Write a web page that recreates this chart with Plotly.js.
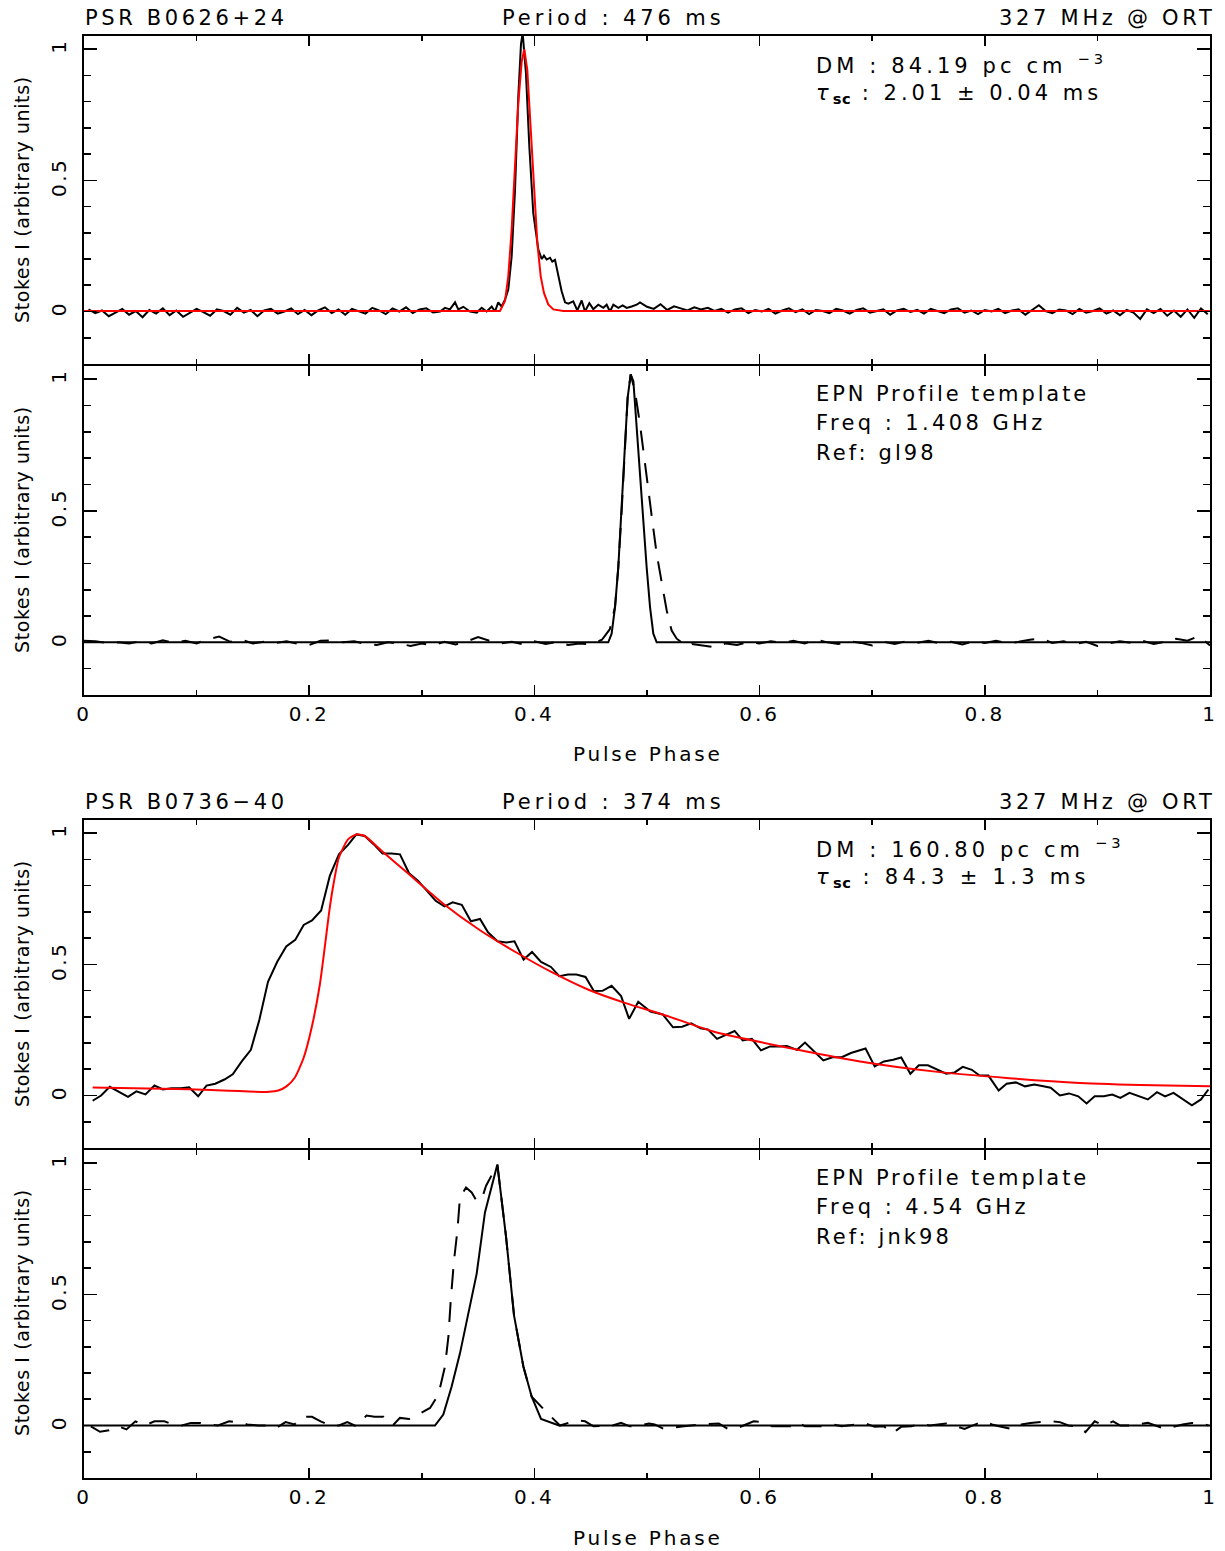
<!DOCTYPE html>
<html>
<head>
<meta charset="utf-8">
<script src="https://cdn.plot.ly/plotly-3.0.1.min.js"></script>
<style>html,body{margin:0;padding:0;background:#fff;}</style>
</head>
<body>
<div id="chart" style="width:1225px;height:1551px;"></div>
<script>
// ---------------- DATA ----------------
// Panel 1: PSR B0626+24, 327 MHz observed profile (black) and scattering fit (red)
const p1_phase = [0.004,0.010,0.016,0.022,0.028,0.034,0.040,0.046,0.052,0.058,0.064,0.070,0.076,0.082,0.088,0.094,0.100,0.106,0.112,0.118,0.124,0.130,0.136,0.142,0.148,0.154,0.160,0.166,0.172,0.178,0.184,0.190,0.196,0.202,0.208,0.214,0.220,0.226,0.232,0.238,0.244,0.250,0.256,0.262,0.268,0.274,0.280,0.286,0.292,0.298,0.304,0.310,
 0.3162,0.3206,0.3250,0.3295,0.3324,0.3369,0.3428,0.3488,0.3532,0.3576,0.3621,0.3650,0.3679,0.3709,0.3739,0.3768,0.3798,0.3828,0.3857,0.3881,0.3896,0.3925,0.3955,0.3990,0.4035,0.4065,0.4085,0.4109,0.4139,0.4159,0.4183,0.4212,0.4242,0.4272,0.4301,0.4345,0.4381,0.4420,0.4449,0.4488,0.4523,0.4567,0.4612,0.4642,0.4671,0.4701,0.4745,0.4784,0.4820,0.4864,0.4908,0.4938,
 0.500,0.506,0.512,0.518,0.524,0.530,0.536,0.542,0.548,0.554,0.560,0.566,0.572,0.578,0.584,0.590,0.596,0.602,0.608,0.614,0.620,0.626,0.632,0.638,0.644,0.650,0.656,0.662,0.668,0.674,0.680,0.686,0.692,0.698,0.704,0.710,0.716,0.722,0.728,0.734,0.740,0.746,0.752,0.758,0.764,0.770,0.776,0.782,0.788,0.794,0.800,0.806,0.812,0.818,0.824,0.830,0.836,0.842,0.848,0.854,0.860,0.866,0.872,0.878,0.884,0.890,0.896,0.902,0.908,0.914,0.920,0.926,0.932,0.938,0.944,0.950,0.956,0.962,0.968,0.974,0.980,0.986,0.992,0.998];
const p1_stokesI = [0.008,-0.006,0.004,-0.018,-0.004,0.010,-0.012,0.002,-0.022,0.006,-0.008,0.012,-0.014,0.004,-0.020,-0.006,0.010,-0.002,-0.016,0.008,0.002,-0.012,0.014,-0.004,0.006,-0.018,0.004,0.010,-0.008,0.000,0.012,-0.010,0.006,-0.014,0.004,0.016,-0.006,0.008,-0.012,0.010,0.002,-0.008,0.014,0.004,-0.010,0.012,0.000,0.016,-0.006,0.008,0.012,-0.004,
 0.000,0.014,0.008,0.035,0.008,0.018,0.000,-0.004,0.014,0.000,0.019,0.000,0.035,0.019,0.045,0.084,0.210,0.464,0.819,1.020,1.060,0.907,0.629,0.375,0.236,0.200,0.213,0.198,0.205,0.190,0.197,0.134,0.077,0.035,0.030,0.039,0.004,0.042,0.000,0.032,0.009,0.026,0.014,0.026,0.000,0.026,0.014,0.023,0.014,0.019,0.026,0.035,
 0.018,0.010,0.028,0.006,0.020,0.012,0.004,0.016,0.008,0.014,0.002,0.010,-0.004,0.008,0.012,-0.006,0.006,0.000,0.010,-0.008,0.004,0.012,-0.002,0.008,-0.010,0.006,0.002,-0.006,0.010,0.004,-0.008,0.006,0.012,-0.004,0.002,0.008,-0.012,0.004,0.010,-0.002,0.006,-0.008,0.010,0.002,-0.006,0.008,0.012,-0.004,0.004,-0.010,0.006,0.000,0.010,-0.006,0.004,0.008,-0.012,0.006,0.024,0.002,-0.006,0.008,0.004,-0.010,0.010,-0.004,0.002,0.012,-0.008,0.004,-0.014,0.006,-0.004,-0.028,0.008,-0.006,0.010,-0.016,0.004,-0.020,0.008,-0.024,0.012,-0.010];
const p1_fit_phase = [0,0.3694,0.3739,0.3768,0.3798,0.3828,0.3857,0.3887,0.3910,0.3937,0.3967,0.3996,0.4026,0.4056,0.4085,0.4123,0.4168,0.4257,1];
const p1_fit = [0.002,0.002,0.040,0.134,0.312,0.565,0.793,0.952,1.000,0.920,0.692,0.464,0.261,0.134,0.071,0.027,0.008,0.002,0.002];

// Panel 2: EPN template 1.408 GHz (solid) and scattered template (dashed)
const p2_tpl_phase = [0,0.4656,0.4686,0.4716,0.4745,0.4775,0.4805,0.4828,0.4855,0.4879,0.4908,0.4938,0.4967,0.4997,0.5027,0.5056,0.5086,1];
const p2_tpl = [0,0,0.033,0.134,0.285,0.500,0.753,0.929,1.018,0.992,0.816,0.639,0.462,0.285,0.134,0.033,0,0];
const p2_dash_phase = [0.00,0.01,0.02,0.03,0.04,0.05,0.06,0.07,0.08,0.09,0.10,0.11,0.12,0.13,0.14,0.15,0.16,0.17,0.18,0.19,0.20,0.21,0.22,0.23,0.24,0.25,0.26,0.27,0.28,0.29,0.30,0.31,0.32,0.33,0.34,0.35,0.36,0.37,0.38,0.39,0.40,0.41,0.42,0.43,0.44,0.45,0.46,
 0.4670,0.4716,0.4745,0.4775,0.4805,0.4828,0.4855,0.4893,0.4938,0.4982,0.5012,0.5051,0.5086,0.5130,0.5175,0.5219,0.5264,0.5308,0.5352,
 0.54,0.55,0.56,0.57,0.58,0.59,0.60,0.61,0.62,0.63,0.64,0.65,0.66,0.67,0.68,0.69,0.70,0.71,0.72,0.73,0.74,0.75,0.76,0.77,0.78,0.79,0.80,0.81,0.82,0.83,0.84,0.85,0.86,0.87,0.88,0.89,0.90,0.91,0.92,0.93,0.94,0.95,0.96,0.97,0.98,0.99,1.00];
const p2_dash = [0.006,0.004,-0.002,0.000,-0.004,0.004,-0.004,0.008,-0.002,0.006,-0.004,0.012,0.022,0.002,0.010,-0.004,0.002,-0.002,0.004,-0.006,-0.010,0.006,0.008,0.000,0.004,-0.006,-0.010,0.000,-0.004,-0.014,-0.004,-0.012,0.002,-0.008,0.004,0.020,0.006,-0.004,0.002,-0.008,0.004,-0.006,0.002,-0.010,-0.004,-0.008,0.010,
 0.050,0.134,0.285,0.500,0.753,0.929,1.018,0.955,0.828,0.677,0.563,0.449,0.336,0.222,0.121,0.045,0.014,0.000,-0.018,
 -0.006,-0.012,-0.018,-0.004,-0.010,0.002,-0.004,0.004,-0.002,0.006,-0.004,0.010,0.000,-0.006,0.004,-0.002,-0.012,0.002,-0.006,0.004,-0.002,0.006,-0.004,0.002,-0.008,0.004,-0.002,0.006,-0.004,0.002,0.010,0.014,-0.002,0.004,-0.006,0.002,-0.014,-0.004,0.004,-0.002,0.006,-0.006,0.002,0.014,0.006,0.024,-0.012];

// Panel 3: PSR B0736-40, 327 MHz observed profile (black) and scattering fit (red)
const p3_phase = [0.0077,0.0152,0.0229,0.0313,0.0391,0.0465,0.0546,0.0626,0.0701,0.0778,0.0859,0.0933,0.1014,0.1088,0.1166,0.1247,0.1321,0.1401,0.1482,0.1557,0.1634,0.1715,0.1796,0.1876,0.1951,0.2025,0.2106,0.2183,0.2264,0.2345,0.2419,0.2493,0.2574,0.2651,0.2732,0.2806,0.2887,0.2968,0.3049,0.3123,0.3201,0.3274,0.3355,0.3436,0.3517,0.3588,0.3672,0.3750,0.3823,0.3904,0.3979,0.4059,0.4147,0.4221,0.4298,0.4373,0.4454,0.4528,0.4605,0.4686,0.4770,0.4841,0.4922,0.5030,0.5140,0.5231,0.5312,0.5393,0.5475,0.5540,0.5622,0.5703,0.5778,0.5850,0.5931,0.6012,0.6094,0.6175,0.6241,0.6332,0.6403,0.6485,0.6566,0.6647,0.6729,0.6811,0.6941,0.7022,0.7104,0.7186,0.7258,0.7339,0.7414,0.7495,0.7575,0.7657,0.7732,0.7804,0.7885,0.7950,0.8032,0.8123,0.8194,0.8276,0.8357,0.8439,0.8520,0.8585,0.8667,0.8748,0.8830,0.8904,0.8976,0.9057,0.9132,0.9204,0.9285,0.9367,0.9448,0.9529,0.9601,0.9676,0.9757,0.9839,0.9920,0.9986];
const p3_stokesI = [-0.020,0.000,0.033,0.013,-0.005,0.016,0.004,0.038,0.023,0.028,0.028,0.031,-0.003,0.038,0.045,0.061,0.081,0.130,0.174,0.288,0.433,0.509,0.568,0.593,0.650,0.667,0.705,0.837,0.919,0.955,0.995,0.989,0.957,0.922,0.922,0.919,0.847,0.818,0.780,0.742,0.721,0.736,0.727,0.664,0.673,0.622,0.588,0.583,0.588,0.518,0.547,0.509,0.490,0.455,0.461,0.461,0.452,0.398,0.399,0.418,0.379,0.292,0.357,0.320,0.309,0.260,0.262,0.275,0.256,0.252,0.216,0.231,0.246,0.210,0.216,0.172,0.187,0.187,0.189,0.174,0.202,0.168,0.134,0.146,0.146,0.162,0.179,0.111,0.130,0.136,0.145,0.083,0.115,0.115,0.098,0.083,0.088,0.109,0.098,0.077,0.076,0.019,0.045,0.050,0.035,0.042,0.035,0.030,0.000,0.008,-0.003,-0.030,-0.003,-0.003,0.004,-0.009,0.010,-0.003,-0.015,0.013,-0.003,0.010,-0.015,-0.037,-0.015,0.023];
const p3_fit_phase = [0.0077,0.0933,0.1644,0.1725,0.1798,0.1870,0.1950,0.2025,0.2096,0.2183,0.2216,0.2264,0.2345,0.2419,0.2493,0.2645,0.2887,0.3194,0.3517,0.3840,0.4163,0.4486,0.4810,0.5140,0.5589,0.6240,0.6892,0.7543,0.8194,0.8845,0.9497,1.0];
const p3_fit = [0.031,0.0235,0.014,0.019,0.035,0.067,0.143,0.265,0.427,0.717,0.806,0.907,0.976,0.995,0.989,0.932,0.843,0.730,0.630,0.545,0.468,0.402,0.352,0.309,0.244,0.183,0.130,0.092,0.067,0.048,0.039,0.035];

// Panel 4: EPN template 4.54 GHz (solid) and scattered template (dashed)
const p4_tpl_phase = [0,0.3117,0.3191,0.3265,0.3339,0.3413,0.3487,0.3561,0.3671,0.3748,0.3819,0.3902,0.3976,0.4059,0.4218,1];
const p4_tpl = [0,0,0.042,0.149,0.275,0.420,0.578,0.812,0.995,0.720,0.420,0.225,0.110,0.025,0,0];
const p4_dash_phase = [0.0061,0.0142,0.0223,0.0304,0.0377,0.0456,0.0539,0.0626,0.0714,0.0788,0.0869,0.0949,0.1030,0.1110,0.1190,0.1289,0.1370,0.1450,0.1547,0.1628,0.1709,0.1790,0.1870,0.1940,0.2025,0.2102,0.2186,0.2264,0.2338,0.2419,0.2509,0.2580,0.2661,0.2742,0.2806,0.2887,0.2952,
 0.3073,0.3147,0.3206,0.3236,0.3257,0.3286,0.3316,0.3339,0.3393,0.3443,0.3487,0.3532,0.3570,0.3671,0.3748,0.3819,0.3902,0.3976,0.4100,0.4227,
 0.4373,0.4450,0.4525,0.4615,0.4695,0.4770,0.4847,0.4938,0.5018,0.5068,0.5149,0.5329,0.5475,0.5638,0.5719,0.5784,0.5947,0.6028,0.6110,0.6272,0.6332,0.6403,0.6566,0.6647,0.6729,0.6940,0.7022,0.7104,0.7179,0.7257,0.7348,0.7429,0.7510,0.7657,0.7739,0.7820,0.7983,0.8064,0.8146,0.8259,0.8325,0.8406,0.8585,0.8667,0.8742,0.8830,0.8894,0.8976,0.9058,0.9139,0.9204,0.9302,0.9448,0.9530,0.9601,0.9757,0.9839,0.9914,0.9986];
const p4_dash = [-0.003,-0.024,-0.018,-0.003,-0.015,0.016,0.000,0.016,0.016,0.004,0.000,0.010,0.010,0.004,0.000,0.016,0.013,0.004,0.000,0.000,-0.009,0.013,0.004,0.033,0.033,0.016,0.000,0.000,0.013,-0.003,0.038,0.033,0.033,0.000,0.029,0.025,0.038,
 0.067,0.117,0.225,0.338,0.477,0.629,0.742,0.869,0.907,0.888,0.856,0.862,0.913,0.995,0.720,0.420,0.225,0.110,0.054,0.000,
 0.020,0.016,-0.003,0.000,0.000,0.010,-0.003,0.000,0.008,0.004,-0.013,-0.003,0.004,0.008,-0.013,-0.013,0.016,0.013,-0.003,-0.003,0.013,-0.003,-0.003,0.004,-0.003,0.008,-0.005,-0.003,-0.030,-0.005,-0.003,0.008,0.000,0.008,-0.003,-0.013,0.016,0.004,-0.005,-0.015,0.004,0.010,0.016,0.013,0.000,-0.003,-0.025,0.016,0.000,0.016,0.000,0.000,0.010,-0.003,-0.013,0.004,0.010,0.010,0.000];

// Tick labels
const phaseTicks = [0, 0.2, 0.4, 0.6, 0.8, 1];
const phaseTickText = ['0', '0.2', '0.4', '0.6', '0.8', '1'];
const intensityTicks = [0, 0.5, 1];
const intensityTickText = ['0', '0.5', '1'];

// ---------------- LAYOUT / STYLE ----------------
const FONT = 'DejaVu Sans, Liberation Sans, sans-serif';
const W = 1225, H = 1551, ML = 84, MR = 15, MT = 36, MB = 73;
const PW = W - ML - MR, PH = H - MT - MB;
const px = x => (x - ML) / PW;
const py = y => (H - MB - y) / PH;
const sp = (t, s) => '<span style="letter-spacing:' + s + 'px">' + t + '</span>';

function xax(domainAnchor, showLabels) {
  return {
    anchor: domainAnchor, range: [0, 1], showgrid: false, zeroline: false,
    showline: true, linecolor: '#000', linewidth: 2, mirror: 'ticks',
    ticks: 'inside', ticklen: 10, tickwidth: 1.6, tickcolor: '#000',
    tickmode: 'array', tickvals: phaseTicks, ticktext: phaseTickText.map(t => sp(t, 3)),
    showticklabels: showLabels,
    tickfont: {family: FONT, size: 20, color: '#000'},
    minor: {ticks: 'inside', dtick: 0.1, tick0: 0, ticklen: 5, tickwidth: 1.6, tickcolor: '#000', showgrid: false},
    fixedrange: true
  };
}
function yax(domain, anchor) {
  return {
    domain: domain, anchor: anchor, range: [-0.2, 1.05], showgrid: false, zeroline: false,
    showline: true, linecolor: '#000', linewidth: 2, mirror: 'ticks',
    ticks: 'inside', ticklen: 13, tickwidth: 1.6, tickcolor: '#000',
    tickmode: 'array', tickvals: intensityTicks, ticktext: intensityTickText.map(t => sp(t, 2.5)),
    tickangle: -90, ticklabelstandoff: 8,
    tickfont: {family: FONT, size: 20, color: '#000'},
    minor: {ticks: 'inside', dtick: 0.1, tick0: 0, ticklen: 7, tickwidth: 1.6, tickcolor: '#000', showgrid: false},
    fixedrange: true
  };
}

// panels touching: domains overlap by the frame width so the shared border is one line
const d1 = [py(364), 1], d2 = [py(695), py(366)], d3 = [py(1148), py(820)], d4 = [0, py(1150)];

const BL = {color: '#000', width: 2};
const RD = {color: '#ff0000', width: 2};
const DS = {color: '#000', width: 2, dash: '20px,13px'};

const traces = [
  {x: p1_phase, y: p1_stokesI, xaxis: 'x', yaxis: 'y', mode: 'lines', line: BL, name: 'B0626+24 327 MHz'},
  {x: p1_fit_phase, y: p1_fit, xaxis: 'x', yaxis: 'y', mode: 'lines', line: RD, name: 'fit'},
  {x: p2_tpl_phase, y: p2_tpl, xaxis: 'x2', yaxis: 'y2', mode: 'lines', line: BL, name: 'template'},
  {x: p2_dash_phase, y: p2_dash, xaxis: 'x2', yaxis: 'y2', mode: 'lines', line: DS, name: 'scattered template'},
  {x: p3_phase, y: p3_stokesI, xaxis: 'x3', yaxis: 'y3', mode: 'lines', line: BL, name: 'B0736-40 327 MHz'},
  {x: p3_fit_phase, y: p3_fit, xaxis: 'x3', yaxis: 'y3', mode: 'lines', line: Object.assign({shape: 'spline', smoothing: 0.6}, RD), name: 'fit'},
  {x: p4_tpl_phase, y: p4_tpl, xaxis: 'x4', yaxis: 'y4', mode: 'lines', line: BL, name: 'template'},
  {x: p4_dash_phase, y: p4_dash, xaxis: 'x4', yaxis: 'y4', mode: 'lines', line: DS, name: 'scattered template'}
];

function ann(text, s, x, y, xanchor, extra) {
  return Object.assign({text: sp(text, s), x: x, y: y, xref: 'paper', yref: 'paper', xanchor: xanchor, yanchor: 'middle',
    showarrow: false, font: {family: FONT, size: 21, color: '#000'}, borderpad: 0}, extra || {});
}
const TAU = '<i>τ</i><sub><b><span style="letter-spacing:0.5px">sc</span></b></sub>';
const SMALL = {font: {family: FONT, size: 20, color: '#000'}};
const annotations = [
  ann('PSR B0626+24', 3.6, px(84), py(18), 'left'),
  ann('Period : 476 ms', 3.9, px(613), py(18), 'center'),
  ann('327 MHz @ ORT', 3.7, px(1217), py(18), 'right'),
  ann('DM : 84.19 pc cm <sup>−3</sup>', 4.1, px(815), py(64), 'left'),
  ann(TAU + ' : 2.01 ± 0.04 ms', 4.0, px(815), py(94), 'left'),
  ann('EPN Profile template', 2.9, px(815), py(394), 'left'),
  ann('Freq : 1.408 GHz', 3.4, px(815), py(423), 'left'),
  ann('Ref: gl98', 3.1, px(815), py(453), 'left'),
  ann('Pulse Phase', 2.8, px(648), py(754), 'center', SMALL),
  ann('PSR B0736−40', 3.6, px(84), py(802), 'left'),
  ann('Period : 374 ms', 3.9, px(613), py(802), 'center'),
  ann('327 MHz @ ORT', 3.7, px(1217), py(802), 'right'),
  ann('DM : 160.80 pc cm <sup>−3</sup>', 4.1, px(815), py(848), 'left'),
  ann(TAU + ' : 84.3 ± 1.3 ms', 4.3, px(815), py(878), 'left'),
  ann('EPN Profile template', 2.9, px(815), py(1178), 'left'),
  ann('Freq : 4.54 GHz', 3.4, px(815), py(1207), 'left'),
  ann('Ref: jnk98', 3.1, px(815), py(1237), 'left'),
  ann('Pulse Phase', 2.8, px(648), py(1538), 'center', SMALL)
];
[200, 530, 984, 1313].forEach(c => annotations.push(
  ann('Stokes I (arbitrary units)', 0.6, px(22), py(c), 'center', {textangle: -90, font: {family: FONT, size: 19, color: '#000'}})
));

const layout = {
  width: W, height: H,
  margin: {l: ML, r: MR, t: MT, b: MB, pad: 0},
  paper_bgcolor: '#fff', plot_bgcolor: '#fff',
  showlegend: false,
  font: {family: FONT, color: '#000'},
  xaxis: xax('y', false),
  xaxis2: xax('y2', true),
  xaxis3: xax('y3', false),
  xaxis4: xax('y4', true),
  yaxis: yax(d1, 'x'),
  yaxis2: yax(d2, 'x2'),
  yaxis3: yax(d3, 'x3'),
  yaxis4: yax(d4, 'x4'),
  annotations: annotations
};

Plotly.newPlot('chart', traces, layout, {staticPlot: true, displayModeBar: false});
</script>
</body>
</html>
